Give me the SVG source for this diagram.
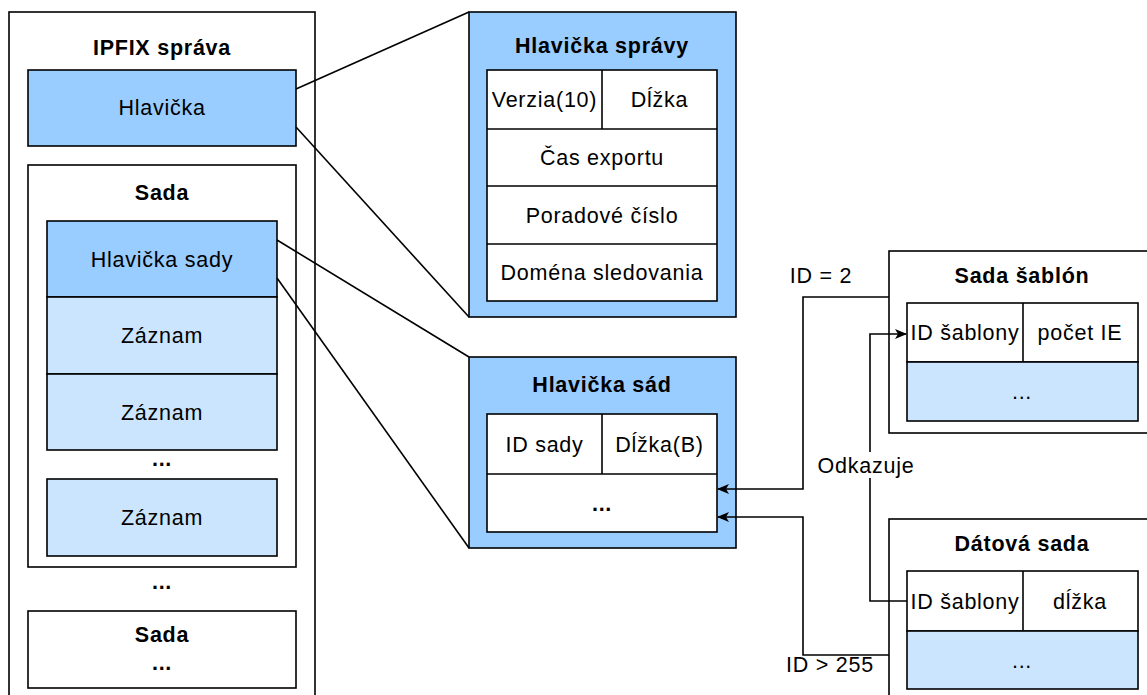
<svg xmlns="http://www.w3.org/2000/svg" width="1147" height="695" viewBox="0 0 1147 695">
<style>
.b{stroke:#000;stroke-width:1.6}
.w{fill:#fff}
.h{fill:#99CCFF}
.r{fill:#CCE5FF}
text{font-family:"Liberation Sans",Arial,sans-serif;font-size:21.5px;letter-spacing:0.75px;fill:#000;text-anchor:middle}
.t{font-weight:bold}
.c{fill:none;stroke:#000;stroke-width:1.6}
</style>
<defs>
<marker id="arr" markerWidth="12" markerHeight="10" refX="11" refY="5" orient="auto" markerUnits="userSpaceOnUse">
<path d="M0,0 L12,5 L0,10 L3,5 Z" fill="#000"/>
</marker>
</defs>
<rect width="1147" height="695" fill="#fff"/>
<g id="ipfix">
<rect class="b w" x="9" y="12" width="306" height="700"/>
<text class="t" x="162" y="55">IPFIX správa</text>
</g>
<g id="hlavicka">
<rect class="b h" x="28" y="70" width="268" height="76"/>
<text x="162" y="115">Hlavička</text>
</g>
<g id="sada1">
<rect class="b w" x="28" y="165" width="268" height="402"/>
<text class="t" x="162" y="200">Sada</text>
</g>
<g id="hlavicka-sady">
<rect class="b h" x="47" y="221" width="230" height="76"/>
<text x="162" y="267">Hlavička sady</text>
</g>
<g id="zaznam1">
<rect class="b r" x="47" y="297" width="230" height="77"/>
<text x="162" y="343">Záznam</text>
</g>
<g id="zaznam2">
<rect class="b r" x="47" y="374" width="230" height="76"/>
<text x="162" y="420">Záznam</text>
</g>
<g id="dots1"><text class="t" x="162" y="466">...</text></g>
<g id="zaznam3">
<rect class="b r" x="47" y="479" width="230" height="77"/>
<text x="162" y="525">Záznam</text>
</g>
<g id="dots2"><text class="t" x="162" y="589">...</text></g>
<g id="sada2">
<rect class="b w" x="28" y="611" width="268" height="77"/>
<text class="t" x="162" y="642">Sada</text>
<text class="t" x="162" y="670">...</text>
</g>
<g id="hlavicka-spravy">
<rect class="b h" x="469" y="12" width="267" height="305"/>
<text class="t" x="602" y="53">Hlavička správy</text>
<rect class="b w" x="487" y="70" width="230" height="231"/>
<line class="b" x1="487" y1="129" x2="717" y2="129"/>
<line class="b" x1="487" y1="186" x2="717" y2="186"/>
<line class="b" x1="487" y1="244" x2="717" y2="244"/>
<line class="b" x1="602" y1="70" x2="602" y2="129"/>
<text x="544.5" y="107">Verzia(10)</text>
<text x="659.5" y="107">Dĺžka</text>
<text x="602" y="165">Čas exportu</text>
<text x="602" y="223">Poradové číslo</text>
<text x="602" y="280">Doména sledovania</text>
</g>
<g id="hlavicka-sad">
<rect class="b h" x="469" y="357" width="267" height="191"/>
<text class="t" x="602" y="392">Hlavička sád</text>
<rect class="b w" x="487" y="414" width="230" height="118"/>
<line class="b" x1="487" y1="474" x2="717" y2="474"/>
<line class="b" x1="602" y1="414" x2="602" y2="474"/>
<text x="544.5" y="452">ID sady</text>
<text x="659.5" y="452">Dĺžka(B)</text>
<text class="t" x="602" y="511">...</text>
</g>
<g id="sada-sablon">
<rect class="b w" x="889" y="251" width="270" height="182"/>
<text class="t" x="1022" y="283">Sada šablón</text>
<rect class="b w" x="907" y="303" width="231" height="59"/>
<rect class="b r" x="907" y="362" width="231" height="59"/>
<line class="b" x1="1023" y1="303" x2="1023" y2="362"/>
<text x="965" y="340">ID šablony</text>
<text x="1080" y="340">počet IE</text>
<text x="1022" y="399">...</text>
</g>
<g id="datova-sada">
<rect class="b w" x="889" y="519" width="270" height="190"/>
<text class="t" x="1022" y="551">Dátová sada</text>
<rect class="b w" x="907" y="571" width="231" height="60"/>
<rect class="b r" x="907" y="631" width="231" height="58"/>
<line class="b" x1="1023" y1="571" x2="1023" y2="631"/>
<text x="965" y="609">ID šablony</text>
<text x="1080" y="609">dĺžka</text>
<text x="1022" y="668">...</text>
</g>
<g id="connectors">
<line class="c" x1="296" y1="89" x2="469" y2="12"/>
<line class="c" x1="296" y1="127" x2="469" y2="317"/>
<line class="c" x1="277" y1="240" x2="469" y2="357"/>
<line class="c" x1="277" y1="278" x2="469" y2="548"/>
<path class="c" d="M889,297 H803 V489 H718" marker-end="url(#arr)"/>
<path class="c" d="M889,655 H803 V517 H718" marker-end="url(#arr)"/>
<path class="c" d="M907,601 H870 V334 H906" marker-end="url(#arr)"/>
<text x="821" y="283">ID = 2</text>
<text x="830" y="672">ID &gt; 255</text>
<rect x="812" y="452" width="106" height="26" fill="#fff"/>
<text x="866" y="473">Odkazuje</text>
</g>
</svg>
